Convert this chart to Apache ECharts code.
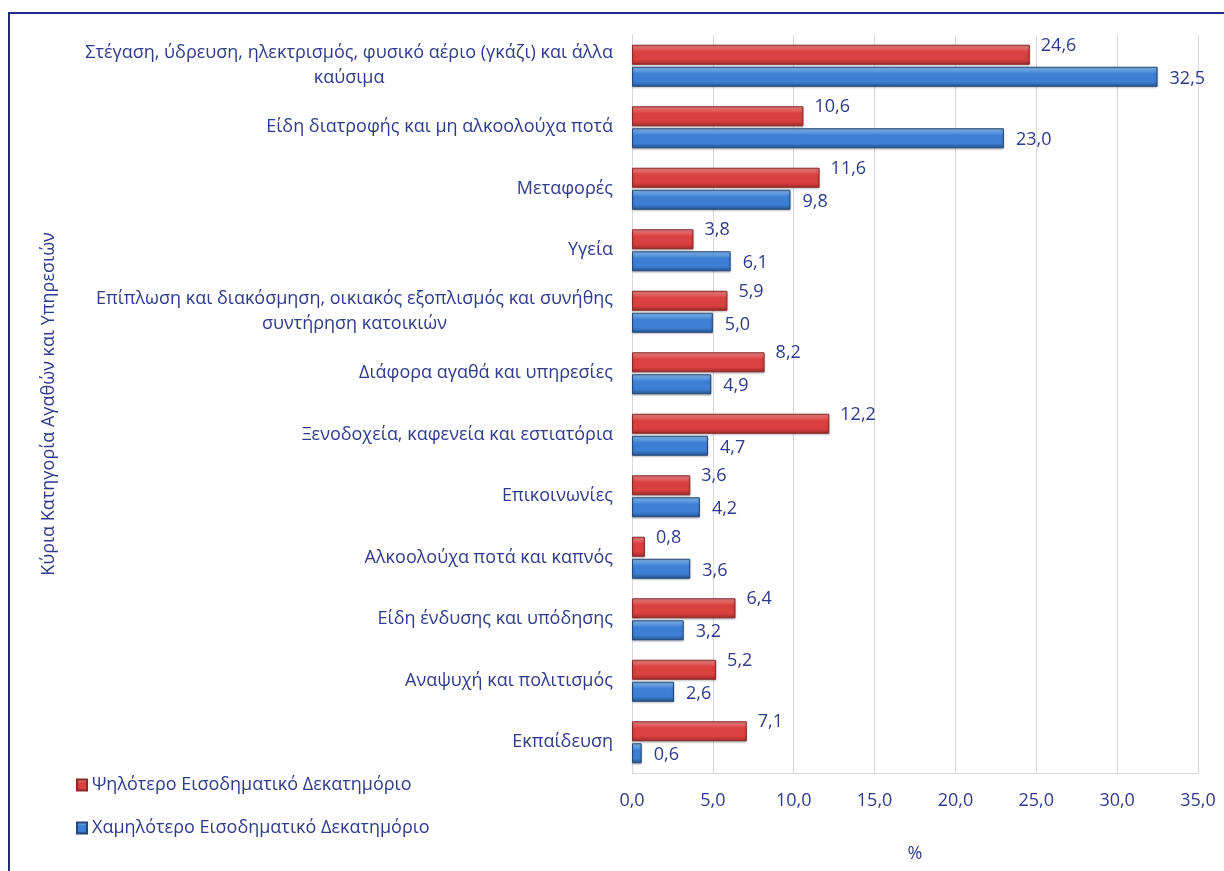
<!DOCTYPE html>
<html>
<head>
<meta charset="utf-8">
<style>
    html, body { margin: 0; padding: 0; background: #ffffff; }
    #chart { width: 1224px; height: 871px; }
</style>
<script src="https://cdn.jsdelivr.net/npm/echarts@6/dist/echarts.min.js"></script>
</head>
<body>
<div id="chart"></div>
<script>
    // κατηγορίες (από πάνω προς τα κάτω)
    var categories = [
        'Στέγαση, ύδρευση, ηλεκτρισμός, φυσικό αέριο (γκάζι) και άλλα\nκαύσιμα',
        'Είδη διατροφής και μη αλκοολούχα ποτά',
        'Μεταφορές',
        'Υγεία',
        'Επίπλωση και διακόσμηση, οικιακός εξοπλισμός και συνήθης\nσυντήρηση κατοικιών',
        'Διάφορα αγαθά και υπηρεσίες',
        'Ξενοδοχεία, καφενεία και εστιατόρια',
        'Επικοινωνίες',
        'Αλκοολούχα ποτά και καπνός',
        'Είδη ένδυσης και υπόδησης',
        'Αναψυχή και πολιτισμός',
        'Εκπαίδευση'
    ];
    var seriesNames = ['Ψηλότερο Εισοδηματικό Δεκατημόριο', 'Χαμηλότερο Εισοδηματικό Δεκατημόριο'];
    var highDecile = [24.6, 10.6, 11.6, 3.8, 5.9, 8.2, 12.2, 3.6, 0.8, 6.4, 5.2, 7.1];
    var lowDecile = [32.5, 23.0, 9.8, 6.1, 5.0, 4.9, 4.7, 4.2, 3.6, 3.2, 2.6, 0.6];
    var xTicks = [0, 5, 10, 15, 20, 25, 30, 35];

    var textColor = '#2E3A8C';
    var font = 'Open Sans';
    var fs = 18;

    function fmt(v) {
        return v.toFixed(1).replace('.', ',');
    }

    function barGrad(light, mid, dark) {
        return new echarts.graphic.LinearGradient(0, 0, 0, 1, [
            { offset: 0, color: light },
            { offset: 0.35, color: mid },
            { offset: 0.75, color: mid },
            { offset: 1, color: dark }
        ]);
    }

    var chart = echarts.init(document.getElementById('chart'));
    var options = {
        backgroundColor: '#ffffff',
        textStyle: { fontFamily: font },
        animation: false,
        graphic: [
            {
                type: 'rect',
                shape: { x: 9, y: 13, width: 1400, height: 1000 },
                style: { fill: 'none', stroke: '#1F2A8A', lineWidth: 2 },
                silent: true
            }
        ],
        legend: {
            orient: 'vertical',
            left: 71,
            top: 771,
            itemGap: 25,
            itemWidth: 10,
            itemHeight: 11,
            icon: 'rect',
            textStyle: { color: textColor, fontSize: fs, fontFamily: font },
            data: seriesNames
        },
        grid: {
            left: 632,
            right: 26,
            top: 35,
            bottom: 98
        },
        xAxis: {
            type: 'value',
            min: xTicks[0],
            max: xTicks[xTicks.length - 1],
            interval: 5,
            name: '%',
            nameLocation: 'middle',
            nameGap: 72,
            nameTextStyle: { color: textColor, fontSize: fs },
            axisLine: { show: true, lineStyle: { color: '#d9d9d9' } },
            axisTick: { show: false },
            axisLabel: {
                color: textColor,
                fontSize: fs,
                margin: 19,
                formatter: function (v) { return fmt(v); }
            },
            splitLine: { show: true, lineStyle: { color: '#d9d9d9' } }
        },
        yAxis: {
            type: 'category',
            inverse: true,
            data: categories,
            name: 'Κύρια Κατηγορία Αγαθών και Υπηρεσιών',
            nameLocation: 'middle',
            nameGap: 574,
            nameRotate: 90,
            nameTextStyle: { color: textColor, fontSize: fs },
            axisLine: { show: true, lineStyle: { color: '#d9d9d9' } },
            axisTick: { show: false },
            axisLabel: {
                color: textColor,
                fontSize: fs,
                margin: 19,
                align: 'right',
                lineHeight: 25,
                formatter: function (v) {
                    // γραμμές κεντραρισμένες μέσα στο μπλοκ
                    return v.split('\n').map(function (s) { return '{c|' + s + '}'; }).join('\n');
                },
                rich: {
                    c: { align: 'center', color: textColor, fontSize: fs, lineHeight: 25 }
                }
            }
        },
        series: [
            {
                name: seriesNames[0],
                type: 'bar',
                data: highDecile,
                barWidth: 20,
                barGap: '10%',
                itemStyle: {
                    color: barGrad('#f08a8a', '#d9403f', '#9e2a2a'),
                    borderColor: '#8c2a2a',
                    borderWidth: 1,
                    shadowColor: 'rgba(0,0,0,0.25)',
                    shadowBlur: 2,
                    shadowOffsetY: 1
                },
                label: {
                    show: true,
                    position: 'right',
                    distance: 11,
                    color: textColor,
                    fontSize: fs,
                    offset: [0, -9],
                    formatter: function (p) { return fmt(p.value); }
                }
            },
            {
                name: seriesNames[1],
                type: 'bar',
                data: lowDecile,
                barWidth: 20,
                itemStyle: {
                    color: barGrad('#8cc0f0', '#3d7fd4', '#24548f'),
                    borderColor: '#23487a',
                    borderWidth: 1,
                    shadowColor: 'rgba(0,0,0,0.25)',
                    shadowBlur: 2,
                    shadowOffsetY: 1
                },
                label: {
                    show: true,
                    position: 'right',
                    distance: 12,
                    color: textColor,
                    fontSize: fs,
                    offset: [0, 2],
                    formatter: function (p) { return fmt(p.value); }
                }
            }
        ]
    };
    chart.setOption(options);
</script>
</body>
</html>
